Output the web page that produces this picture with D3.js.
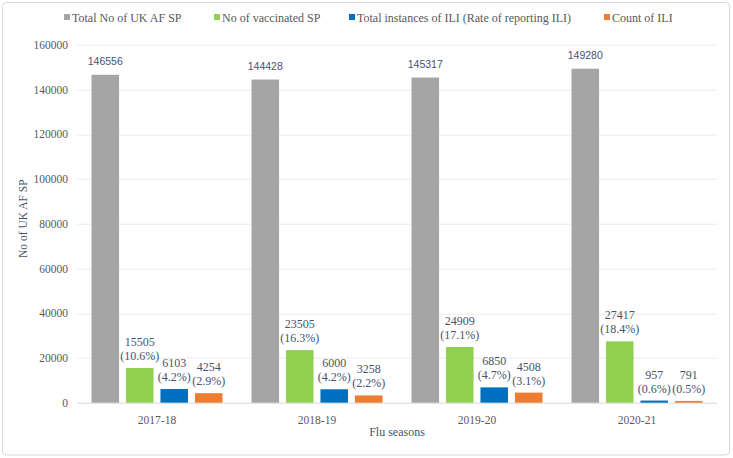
<!DOCTYPE html>
<html>
<head>
<meta charset="utf-8">
<script src="https://cdn.jsdelivr.net/npm/d3@7"></script>
<style>
  html, body { margin: 0; padding: 0; background: #fff; }
  svg { display: block; }
  .serif { font-family: "Liberation Serif", "Times New Roman", Times, serif; }
  .sans { font-family: "Liberation Sans", Arial, Helvetica, sans-serif; }
</style>
</head>
<body>
<svg id="chart" width="733" height="458"></svg>
<script>
const seasons = ["2017-18", "2018-19", "2019-20", "2020-21"];
const seriesNames = ["Total No of UK AF SP", "No of vaccinated SP", "Total instances of ILI (Rate of reporting ILI)", "Count of ILI"];
const totalSP = [146556, 144428, 145317, 149280];
const vaccinatedSP = [15505, 23505, 24909, 27417];
const iliInstances = [6103, 6000, 6850, 957];
const iliCount = [4254, 3258, 4508, 791];
const vaccinatedPct = ["(10.6%)", "(16.3%)", "(17.1%)", "(18.4%)"];
const iliInstancesPct = ["(4.2%)", "(4.2%)", "(4.7%)", "(0.6%)"];
const iliCountPct = ["(2.9%)", "(2.2%)", "(3.1%)", "(0.5%)"];
const yTicks = [0, 20000, 40000, 60000, 80000, 100000, 120000, 140000, 160000];
const colors = ["#A5A5A5", "#92D050", "#0070C0", "#ED7D31"];

const seriesValues = [totalSP, vaccinatedSP, iliInstances, iliCount];
const seriesPct = [null, vaccinatedPct, iliInstancesPct, iliCountPct];

const svg = d3.select("#chart");
const W = 733, H = 458;
const margin = { left: 77, right: 16, top: 44.7, bottom: 55.3 };
const plotW = W - margin.left - margin.right;
const plotH = H - margin.top - margin.bottom;

// border
svg.append("rect").attr("x", 2.5).attr("y", 2.5).attr("width", W - 6).attr("height", H - 5.5)
  .attr("rx", 4).attr("fill", "#fff").attr("stroke", "#D9D9D9").attr("stroke-width", 1);

const g = svg.append("g").attr("transform", `translate(${margin.left},${margin.top})`);

const y = d3.scaleLinear().domain([0, 160000]).range([plotH, 0]);
const x0 = d3.scaleBand().domain(seasons).range([0, plotW]).padding(0);
const groupPad = 14.5;
const x1 = d3.scaleBand().domain(d3.range(4)).range([groupPad, x0.bandwidth() - groupPad]).paddingInner(0.2);

// gridlines
g.append("g").selectAll("line").data(yTicks).join("line")
  .attr("x1", 0).attr("x2", plotW)
  .attr("y1", d => Math.round(y(d)) + 0.5).attr("y2", d => Math.round(y(d)) + 0.5)
  .attr("stroke", d => d === 0 ? "#D9D9D9" : "#EBEBEB").attr("stroke-width", 1);

// y axis labels
const yAxis = d3.axisLeft(y).tickValues(yTicks).tickSize(0).tickPadding(9).tickFormat(d3.format("d"));
const ya = g.append("g").call(yAxis);
ya.select(".domain").remove();
ya.selectAll("text").attr("class", "serif").attr("font-family", null).attr("font-size", 11.5).attr("fill", "#595959");

// x axis labels
const xAxis = d3.axisBottom(x0).tickSize(0).tickPadding(13);
const xa = g.append("g").attr("transform", `translate(0,${plotH})`).call(xAxis);
xa.select(".domain").remove();
xa.selectAll("text").attr("class", "serif").attr("font-family", null).attr("font-size", 11.5).attr("fill", "#595959");
xa.attr("font-family", null);
ya.attr("font-family", null);

// bars
const groups = g.selectAll(".grp").data(seasons).join("g")
  .attr("class", "grp").attr("transform", d => `translate(${x0(d)},0)`);

groups.each(function(season, i) {
  const gg = d3.select(this);
  seriesValues.forEach((vals, s) => {
    const v = vals[i];
    gg.append("rect")
      .attr("x", x1(s)).attr("width", x1.bandwidth())
      .attr("y", y(v)).attr("height", y(0) - y(v))
      .attr("fill", colors[s]);
    const cx = x1(s) + x1.bandwidth() / 2;
    if (s === 0) {
      gg.append("text").attr("class", "sans").attr("x", cx).attr("y", y(v) - 9.5)
        .attr("text-anchor", "middle")
        .attr("font-size", 10.5).attr("fill", "#44546A").text(d3.format("d")(v));
    } else {
      const t = gg.append("text").attr("class", "serif").attr("text-anchor", "middle")
        .attr("font-size", 12).attr("fill", "#44546A");
      t.append("tspan").attr("x", cx).attr("y", y(v) - 22).text(d3.format("d")(v));
      t.append("tspan").attr("x", cx).attr("y", y(v) - 8).text(seriesPct[s][i]);
    }
  });
});

// axis titles
svg.append("text").attr("class", "serif").attr("transform", `translate(27,${margin.top + plotH / 2 - 5}) rotate(-90)`)
  .attr("text-anchor", "middle").attr("font-size", 11.5)
  .attr("fill", "#44546A").text("No of UK AF SP");
svg.append("text").attr("class", "serif").attr("x", margin.left + plotW / 2).attr("y", 436)
  .attr("text-anchor", "middle").attr("font-size", 12)
  .attr("fill", "#44546A").text("Flu seasons");

// legend
const legendX = [64, 214, 349, 604];
const lg = svg.append("g");
seriesNames.forEach((name, s) => {
  lg.append("rect").attr("x", legendX[s]).attr("y", 14).attr("width", 6).attr("height", 6).attr("fill", colors[s]);
  lg.append("text").attr("class", "serif").attr("x", legendX[s] + 8).attr("y", 21.5)
    .attr("font-size", 12).attr("fill", "#595959").text(name);
});
</script>
</body>
</html>
